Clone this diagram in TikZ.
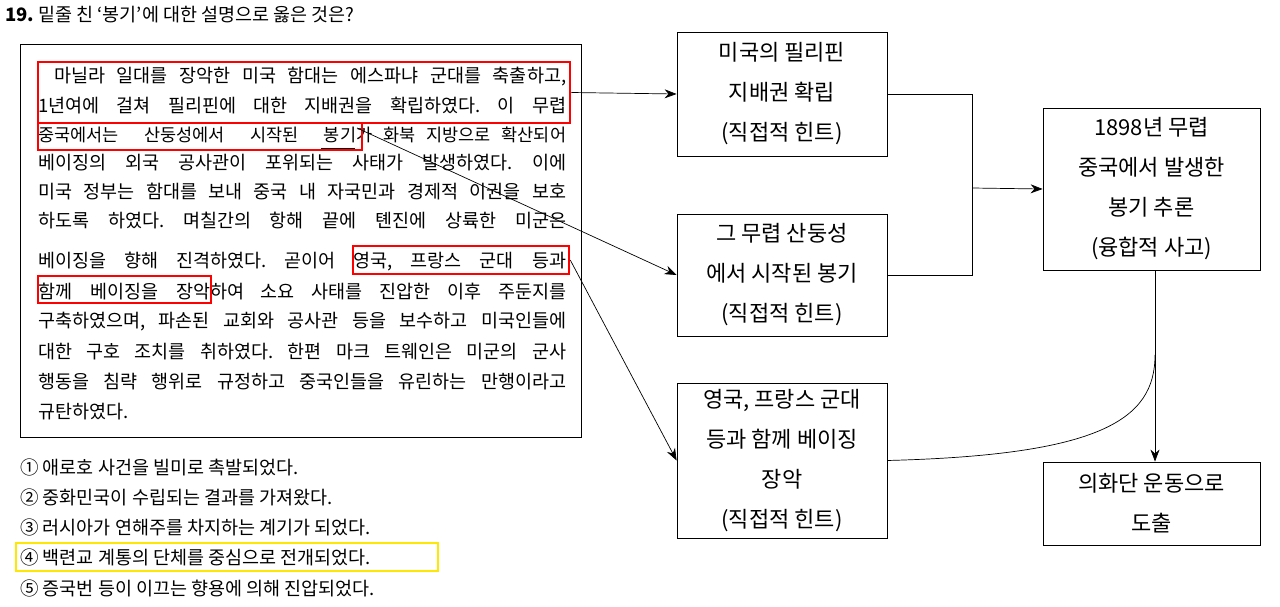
\documentclass[tikz,border=0pt]{standalone}
\usepackage{fontspec}
\setmainfont{Noto Sans CJK KR}
\usetikzlibrary{arrows.meta}
\frenchspacing
\newcommand{\sbx}[2]{\makebox[#1pt][s]{#2}}
\begin{document}
\begin{tikzpicture}[x=1pt,y=-1pt,
  txt/.style={anchor=west,inner sep=0,font=\fontsize{18.5}{18}\selectfont},
  opt/.style={anchor=west,inner sep=0,font=\fontsize{18.5}{18}\selectfont},
  redbox/.style={draw=red,line width=2.5pt,inner sep=0},
  hbox/.style={draw,line width=0.8pt,align=center,font=\fontsize{22}{40}\selectfont,inner sep=0},
  arr/.style={-{Stealth[length=12pt,width=9pt]},line width=0.7pt}]
\useasboundingbox (0,0) rectangle (1280,607);
\node[anchor=west,inner sep=0,font=\fontsize{18.5}{18}\selectfont] (title) at (5,15) {{\bfseries 19.} 밑줄 친 ‘봉기’에 대한 설명으로 옳은 것은?};
\draw[line width=0.9pt] (20,44) rectangle (581,437);
\foreach \y/\t [count=\i] in {77/{\sbx{528}{\hspace{16pt}마닐라 일대를 장악한 미국 함대는 에스파냐 군대를 축출하고,}},
 106/{\sbx{528}{1년여에 걸쳐 필리핀에 대한 지배권을 확립하였다. 이 무렵}},
 135/{\fontsize{17.5}{18}\selectfont\sbx{318}{중국에서는 산둥성에서 시작된 봉기}\sbx{210}{가 화북 지방으로 확산되어}},
 163/{\sbx{528}{베이징의 외국 공사관이 포위되는 사태가 발생하였다. 이에}},
 192/{\sbx{528}{미국 정부는 함대를 보내 중국 내 자국민과 경제적 이권을 보호}},
 221/{\sbx{528}{하도록 하였다. 며칠간의 항해 끝에 톈진에 상륙한 미군은}},
 262/{\sbx{315}{베이징을 향해 진격하였다. 곧이어 }\sbx{213}{영국, 프랑스 군대 등과}},
 292/{\sbx{172}{함께 베이징을 장악}\sbx{356}{하여 소요 사태를 진압한 이후 주둔지를}},
 322/{\sbx{528}{구축하였으며, 파손된 교회와 공사관 등을 보수하고 미국인들에}},
 352/{\sbx{528}{대한 구호 조치를 취하였다. 한편 마크 트웨인은 미군의 군사}},
 382/{\sbx{528}{행동을 침략 행위로 규정하고 중국인들을 유린하는 만행이라고}}}
  \node[txt] (l\i) at (38,\y) {\t};
\node[txt] (l12) at (38,412) {규탄하였다.};
\draw[line width=0.7pt] (321,148) -- (355,148);
\node[redbox,minimum width=324pt,minimum height=27pt] (r2) at (200,136.5) {};
\node[redbox,minimum width=532pt,minimum height=61pt] (r1) at (304,92.5) {};
\node[redbox,minimum width=216pt,minimum height=28pt] (r3) at (461,260) {};
\node[redbox,minimum width=173pt,minimum height=27pt] (r4) at (124.5,289.5) {};
\foreach \y/\t [count=\i] in {467/{① 애로호 사건을 빌미로 촉발되었다.},497/{② 중화민국이 수립되는 결과를 가져왔다.},527/{③ 러시아가 연해주를 차지하는 계기가 되었다.},557/{④ 백련교 계통의 단체를 중심으로 전개되었다.},588/{⑤ 증국번 등이 이끄는 향용에 의해 진압되었다.}}
  \node[opt] (o\i) at (20,\y) {\t};
\draw[draw=yellow!90!orange,line width=2.5pt] (16,543) rectangle (438,571);
\node[hbox,minimum width=210pt,minimum height=124pt] (b1) at (782,94) {미국의 필리핀\\지배권 확립\\(직접적 힌트)};
\node[hbox,minimum width=210pt,minimum height=122pt] (b2) at (782,275) {그 무렵 산둥성\\에서 시작된 봉기\\(직접적 힌트)};
\node[hbox,minimum width=210pt,minimum height=155pt] (b3) at (782,460.5) {영국, 프랑스 군대\\등과 함께 베이징\\장악\\(직접적 힌트)};
\node[hbox,minimum width=217pt,minimum height=162pt] (b4) at (1151.5,189) {1898년 무렵\\중국에서 발생한\\봉기 추론\\(융합적 사고)};
\node[hbox,minimum width=217pt,minimum height=83pt] (b5) at (1151.5,503.5) {의화단 운동으로\\도출};
\coordinate (m) at (972,188);
\coordinate (j) at (1155,355);
\coordinate (s2) at (357,128);
\draw[arr] (r1.east) -- (b1.west);
\draw[arr] (s2) -- (b2.west);
\draw[arr] (r3.east) -- (b3.west);
\draw[line width=0.7pt] (b1.east) -| (m) |- (b2.east);
\draw[arr] (m) -- (b4.west);
\draw[arr] (b4.south -| j) -- (b5.north -| j);
\draw[line width=0.7pt] (b3.east) .. controls (1100,455) and (1155,420) .. (j);
\end{tikzpicture}
\end{document}
